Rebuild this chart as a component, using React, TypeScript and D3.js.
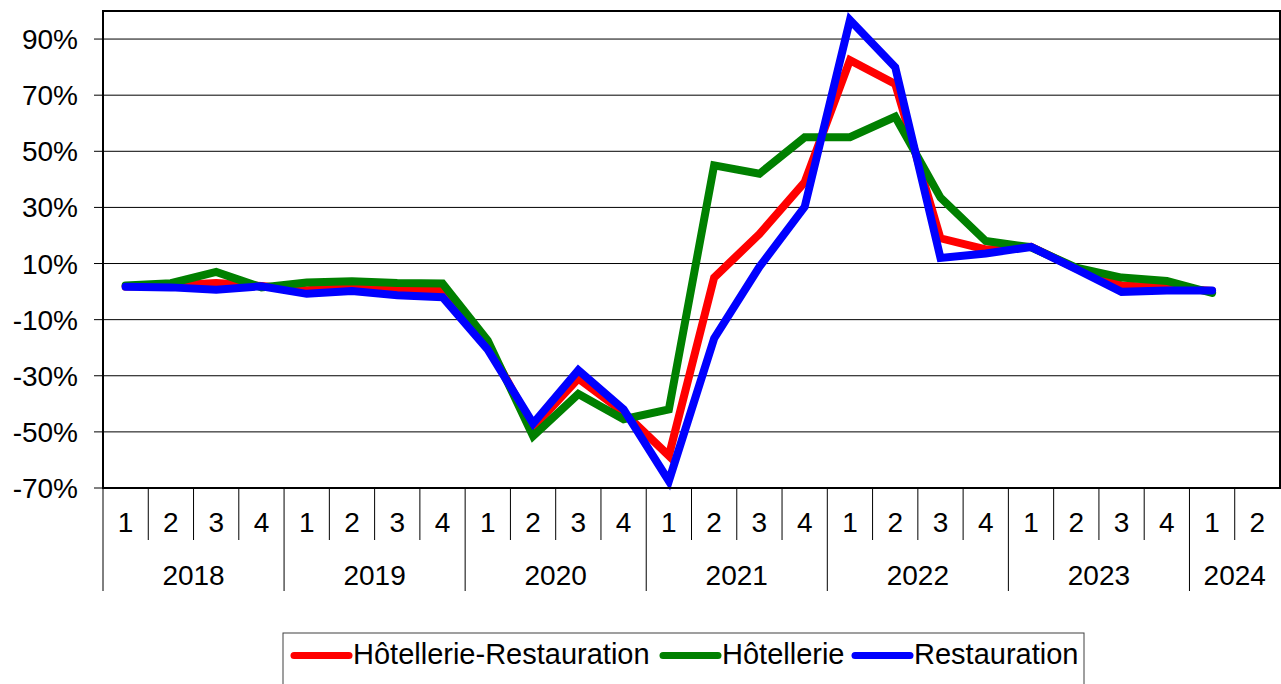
import React, { useEffect, useRef } from 'react';
import * as d3 from 'd3';

// quarters 2018 Q1 .. 2024 Q2
const quarters = ['1', '2', '3', '4', '1', '2', '3', '4', '1', '2', '3', '4', '1', '2', '3', '4', '1', '2', '3', '4', '1', '2', '3', '4', '1', '2'];
const years = ['2018', '2019', '2020', '2021', '2022', '2023', '2024'];
const yearLength = [4, 4, 4, 4, 4, 4, 2];

// year-on-year change, %
const hotRest = [1.8, 2.2, 3.1, 2.0, 0.5, 1.5, 0.7, 0.2, -19, -48.5, -31, -43, -58.5, 5, 20.5, 39, 82.5, 74, 19, 15, 16, 8.2, 2.2, 1.5, 0.2];
const hotellerie = [2.2, 3.0, 7.0, 1.5, 3.2, 3.7, 3.1, 2.9, -17.5, -51.5, -36.5, -45.5, -42, 45, 42, 55, 55, 62.3, 33.5, 18, 15.8, 8.5, 5.0, 3.8, -0.5];
const restauration = [1.7, 1.5, 0.7, 1.9, -0.8, 0.2, -1.3, -2.0, -20.7, -47, -28, -42, -67.5, -16.7, 8.8, 30.2, 96.8, 80, 12, 13.6, 15.9, 8, -0.1, 0.4, 0.4];

const yTicks = [-70, -50, -30, -10, 10, 30, 50, 70, 90];

const series = [
  { name: 'Hôtellerie-Restauration', values: hotRest, color: '#ff0000' },
  { name: 'Hôtellerie', values: hotellerie, color: '#008000' },
  { name: 'Restauration', values: restauration, color: '#0000ff' },
];
// legend swatch start for each entry
const legendX = [294, 663, 855];

const FONT = '"Liberation Sans", Arial, sans-serif';

const drawChart = (el: SVGSVGElement) => {
  const svg = d3.select(el);
  svg.selectAll('*').remove();

  const margin = { top: 11, left: 103, right: 1280, bottom: 488 };

  const x = d3
    .scaleBand<number>()
    .domain(d3.range(quarters.length))
    .range([margin.left, margin.right]);
  const y = d3.scaleLinear().domain([-70, 100]).range([margin.bottom, margin.top]);

  // gridlines
  svg
    .append('g')
    .selectAll('line')
    .data(yTicks.slice(1))
    .enter()
    .append('line')
    .attr('x1', margin.left)
    .attr('x2', margin.right)
    .attr('y1', d => y(d))
    .attr('y2', d => y(d))
    .style('stroke', '#000')
    .style('stroke-width', 1);

  // y ticks + labels
  const yAxis = svg.append('g');
  yAxis
    .selectAll('line')
    .data(yTicks)
    .enter()
    .append('line')
    .attr('x1', 94)
    .attr('x2', margin.left)
    .attr('y1', d => y(d))
    .attr('y2', d => y(d))
    .style('stroke', '#000')
    .style('stroke-width', 1);
  yAxis
    .selectAll('text')
    .data(yTicks)
    .enter()
    .append('text')
    .attr('x', 78)
    .attr('y', d => y(d) + 10)
    .attr('text-anchor', 'end')
    .style('font-family', FONT)
    .style('font-size', '28px')
    .text(d => d + '%');

  // category axis: quarter dividers and labels
  const bw = x.bandwidth();
  const xAxis = svg.append('g');
  const yearStarts: number[] = [];
  yearLength.reduce((acc, n) => {
    yearStarts.push(acc);
    return acc + n;
  }, 0);

  xAxis
    .selectAll('line')
    .data(d3.range(quarters.length))
    .enter()
    .append('line')
    .attr('x1', d => x(d) as number)
    .attr('x2', d => x(d) as number)
    .attr('y1', margin.bottom)
    .attr('y2', d => (yearStarts.includes(d) ? 591 : 540))
    .style('stroke', '#000')
    .style('stroke-width', 1);

  xAxis
    .selectAll('text.q')
    .data(quarters)
    .enter()
    .append('text')
    .attr('class', 'q')
    .attr('x', (d, i) => (x(i) as number) + bw / 2)
    .attr('y', 532)
    .attr('text-anchor', 'middle')
    .style('font-family', FONT)
    .style('font-size', '28px')
    .text(d => d);

  xAxis
    .selectAll('text.y')
    .data(years)
    .enter()
    .append('text')
    .attr('class', 'y')
    .attr('x', (d, i) => (x(yearStarts[i]) as number) + (yearLength[i] * bw) / 2)
    .attr('y', 585)
    .attr('text-anchor', 'middle')
    .style('font-family', FONT)
    .style('font-size', '28px')
    .text(d => d);

  // series lines
  const line = d3
    .line<number>()
    .x((d, i) => (x(i) as number) + bw / 2)
    .y(d => y(d));

  svg
    .append('g')
    .selectAll('path')
    .data(series)
    .enter()
    .append('path')
    .attr('d', d => line(d.values))
    .style('fill', 'none')
    .style('stroke', d => d.color)
    .style('stroke-width', 8)
    .style('stroke-linecap', 'round')
    .style('stroke-linejoin', 'miter');

  // plot border
  svg
    .append('rect')
    .attr('x', margin.left)
    .attr('y', margin.top)
    .attr('width', margin.right - margin.left)
    .attr('height', margin.bottom - margin.top)
    .style('fill', 'none')
    .style('stroke', '#000')
    .style('stroke-width', 2);

  // legend
  const legend = svg.append('g');
  legend
    .append('rect')
    .attr('x', 283)
    .attr('y', 633)
    .attr('width', 801)
    .attr('height', 70)
    .style('fill', '#fff')
    .style('stroke', '#404040')
    .style('stroke-width', 1);

  series.forEach((s, i) => {
    const lx = legendX[i];
    legend
      .append('line')
      .attr('x1', lx)
      .attr('x2', lx + 55)
      .attr('y1', 655.5)
      .attr('y2', 655.5)
      .style('stroke', s.color)
      .style('stroke-width', 7)
      .style('stroke-linecap', 'round');
    legend
      .append('text')
      .attr('x', lx + 59)
      .attr('y', 664)
      .style('font-family', FONT)
      .style('font-size', '29px')
      .text(s.name);
  });
};

const App = () => {
  const ref = useRef<SVGSVGElement>(null);

  useEffect(() => {
    document.body.style.margin = '0';
    document.body.style.overflow = 'hidden';
    if (ref.current) drawChart(ref.current);
  }, []);

  return <svg ref={ref} width={1281} height={684} style={{ display: 'block', background: '#fff' }} />;
};

export default App;
